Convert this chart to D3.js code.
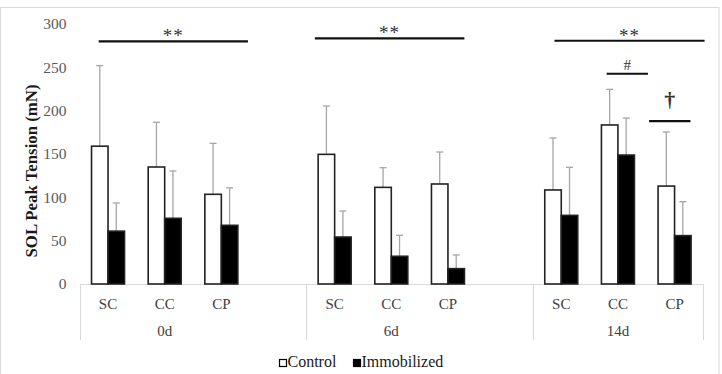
<!DOCTYPE html>
<html><head><meta charset="utf-8">
<script src="https://cdn.jsdelivr.net/npm/d3@7"></script>
<style>body{margin:0;background:#fff}svg{display:block}</style>
</head><body><svg id="c" width="722" height="374"></svg>
<script>
const groups = ["0d","6d","14d"];
const categories = ["SC","CC","CP"];
const series = ["Control","Immobilized"];
// values [group][category]
const controlMean = [[159,135,103.5],[149.6,111.5,115.4],[108.5,183.5,113]];
const controlErrTop = [[252,186.6,162.3],[205.4,134.2,152.3],[168.5,224.6,175.4]];
const immobMean = [[61,75.8,67.7],[54.2,32,17.7],[79.2,148.8,55.8]];
const immobErrTop = [[93.5,130.4,111],[84.2,56.2,33.5],[134.6,191.5,95]];
const yTicks = [0,50,100,150,200,250,300];
// significance annotations: span in slot units, height in mN
const sigLabels = ["**","**","**","#","†"];
const sigFrom = [0.335,4.15,8.38,9.3,10.05];
const sigTo = [2.97,6.79,11.03,10.03,10.78];
const sigValue = [280,283.5,280.7,242.6,188];

const svg = d3.select("#c");
const plotL=79.7, plotR=702.9, plotTop=24, plotBot=284;
const serif = "Liberation Serif, Times New Roman, serif";

// outer border
svg.append("rect").attr("x",0.5).attr("y",7.5).attr("width",718.5).attr("height",372)
  .attr("fill","none").attr("stroke","#d9d9d9").attr("stroke-width",1);

// slots
const slots=[];
groups.forEach((g,gi)=>{categories.forEach(c=>slots.push(g+"|"+c)); if(gi<groups.length-1) slots.push(g+"|_");});
const x = d3.scaleBand().domain(slots).range([plotL,plotR]).padding(0);
const xs = d3.scaleBand().domain(series).range([0,x.bandwidth()]).paddingInner(0).paddingOuter(0.717);
const y = d3.scaleLinear().domain([0,300]).range([plotBot,plotTop]);
const slotX = u => plotL + u*x.bandwidth();

// y tick labels
svg.append("g").selectAll("text").data(yTicks).join("text")
  .attr("x",66.5).attr("y",d=>y(d)).attr("dy","0.35em").attr("text-anchor","end")
  .attr("font-family",serif).attr("font-size",15.5)
  .attr("fill","#595959").text(d=>d);

// y title
svg.append("text").attr("transform",`translate(36.5,${(plotTop+plotBot)/2+17}) rotate(-90)`)
  .attr("text-anchor","middle").attr("font-family",serif)
  .attr("font-size",16.8).attr("font-weight","bold").attr("fill","#1a1a1a")
  .text("SOL Peak Tension (mN)");

// baseline & separators
svg.append("line").attr("x1",plotL).attr("x2",plotR).attr("y1",plotBot+0.5).attr("y2",plotBot+0.5)
  .attr("stroke","#d9d9d9").attr("stroke-width",1);
const sepKeys = [slots[0], "6d|SC", "14d|SC"];
const sepX = sepKeys.map(k=>x(k)).concat([plotR]);
svg.append("g").selectAll("line").data(sepX).join("line")
  .attr("x1",d=>Math.round(d)+0.5).attr("x2",d=>Math.round(d)+0.5).attr("y1",plotBot).attr("y2",340)
  .attr("stroke","#d9d9d9").attr("stroke-width",1);

// category labels
const catData=[]; groups.forEach(g=>categories.forEach(c=>catData.push({g,c})));
svg.append("g").selectAll("text").data(catData).join("text")
  .attr("x",d=>x(d.g+"|"+d.c)+x.bandwidth()/2).attr("y",304).attr("dy","0.35em")
  .attr("text-anchor","middle").attr("font-family",serif)
  .attr("font-size",15).attr("fill","#404040").text(d=>d.c);
svg.append("g").selectAll("text").data(groups).join("text")
  .attr("x",g=>(x(g+"|SC")+x(g+"|CP")+x.bandwidth())/2).attr("y",331).attr("dy","0.35em")
  .attr("text-anchor","middle").attr("font-family",serif)
  .attr("font-size",15).attr("fill","#404040").text(d=>d);

// bars
const bars=[];
groups.forEach((g,gi)=>categories.forEach((c,ci)=>{
  bars.push({k:g+"|"+c,s:"Control",v:controlMean[gi][ci],e:controlErrTop[gi][ci]});
  bars.push({k:g+"|"+c,s:"Immobilized",v:immobMean[gi][ci],e:immobErrTop[gi][ci]});
}));
// error bars (drawn first)
const eg = svg.append("g").attr("stroke","#a6a6a6").attr("stroke-width",1.3);
bars.forEach(b=>{
  const cx = x(b.k)+xs(b.s)+xs.bandwidth()/2;
  eg.append("line").attr("x1",cx).attr("x2",cx).attr("y1",y(b.v)).attr("y2",y(b.e));
  eg.append("line").attr("x1",cx-3.5).attr("x2",cx+3.5).attr("y1",y(b.e)).attr("y2",y(b.e));
});
svg.append("g").selectAll("rect").data(bars).join("rect")
  .attr("x",d=>x(d.k)+xs(d.s)).attr("width",xs.bandwidth())
  .attr("y",d=>y(d.v)).attr("height",d=>y(0)-y(d.v))
  .attr("fill",d=>d.s==="Control"?"#fff":"#000")
  .attr("stroke","#222").attr("stroke-width",1.6);

// significance
sigLabels.forEach((lab,i)=>{
  const x1=slotX(sigFrom[i]), x2=slotX(sigTo[i]), yy=y(sigValue[i]);
  svg.append("line").attr("x1",x1).attr("x2",x2).attr("y1",yy).attr("y2",yy)
    .attr("stroke","#111").attr("stroke-width",2.2);
  const isDagger = lab==="†", isStar = lab==="**";
  svg.append("text").attr("x",(x1+x2)/2).attr("y",isDagger? yy-14 : (isStar? yy+1 : yy-4))
    .attr("text-anchor","middle").attr("font-family",serif)
    .attr("font-size",isDagger?22:(isStar?19:15)).attr("font-weight",isDagger?"bold":"normal")
    .attr("letter-spacing",isStar?1:0)
    .attr("fill","#333").text(lab);
});

// legend
const leg = svg.append("g");
const legX=[279,353];
series.forEach((s,i)=>{
  leg.append("rect").attr("x",legX[i]+0.5).attr("y",359.5).attr("width",7).attr("height",7)
    .attr("fill",i===0?"#fff":"#000").attr("stroke","#000").attr("stroke-width",1.2);
  leg.append("text").attr("x",legX[i]+8.5).attr("y",367).attr("font-family",serif)
    .attr("font-size",16).attr("fill","#1a1a1a").text(s);
});
</script></body></html>
